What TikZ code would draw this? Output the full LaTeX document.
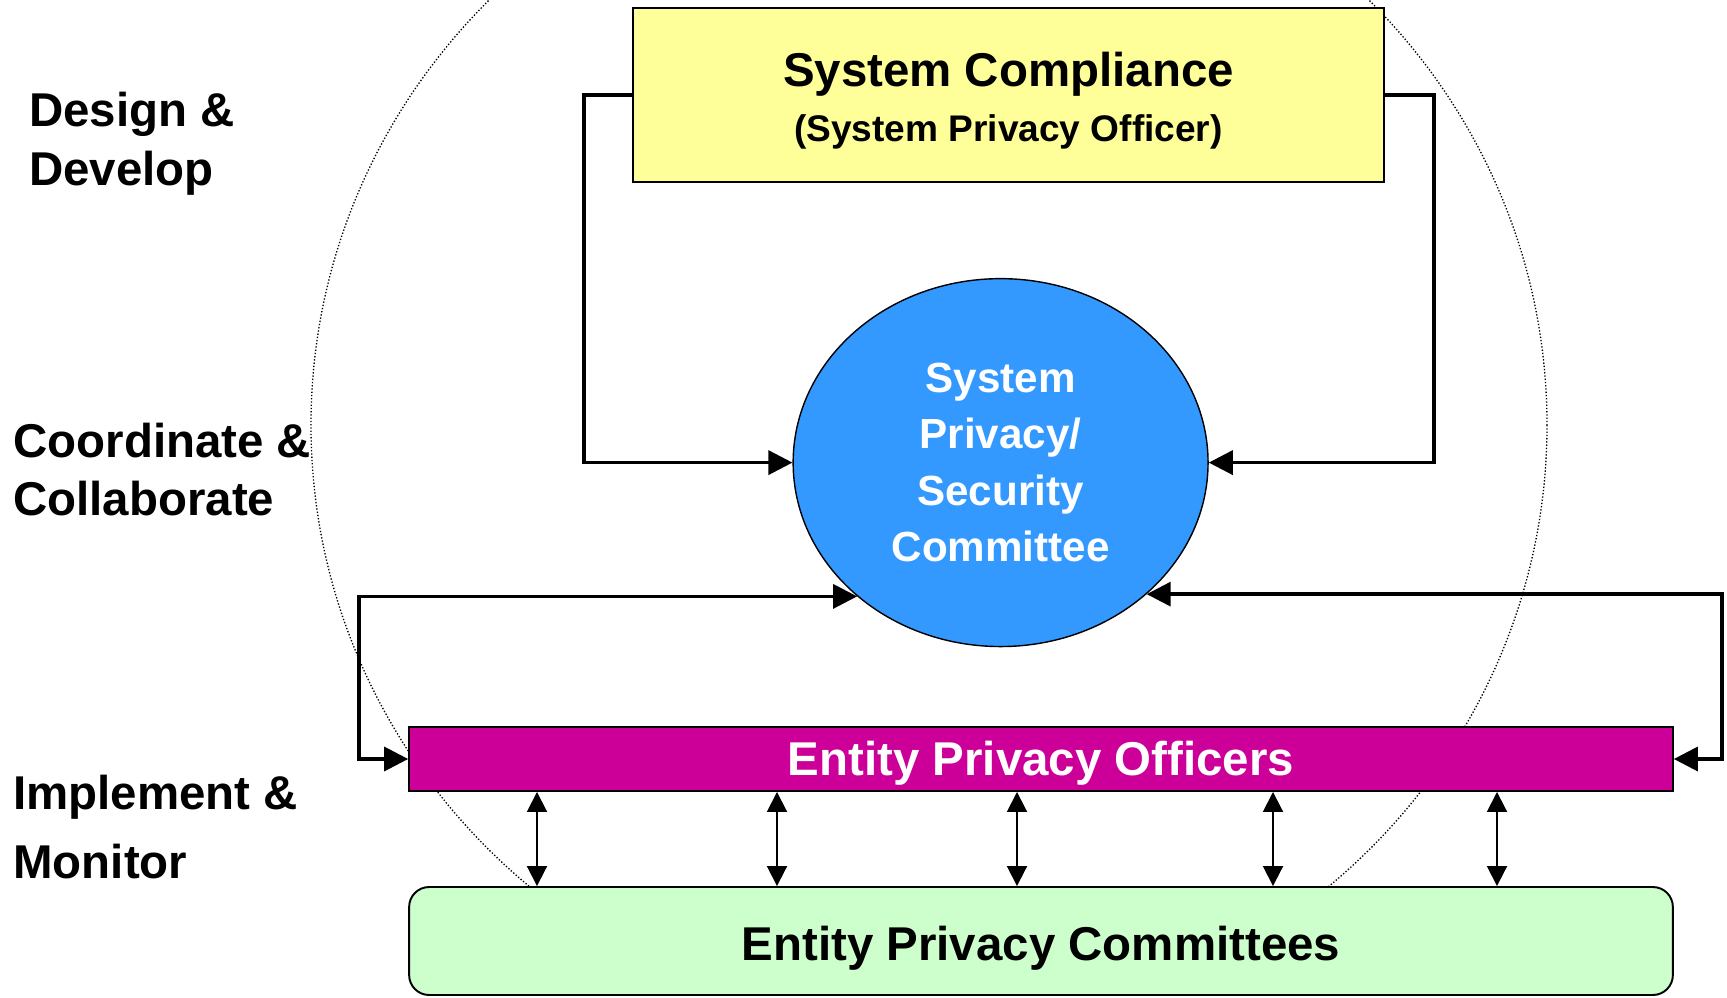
\documentclass[tikz,border=0pt]{standalone}
\usepackage{fontspec}
\setmainfont{Liberation Sans}
\usetikzlibrary{arrows.meta,shapes.geometric}

\definecolor{compyellow}{HTML}{FFFF99}
\definecolor{commblue}{HTML}{3399FF}
\definecolor{officermag}{HTML}{CC0099}
\definecolor{entitygreen}{HTML}{CCFFCC}

\newcommand{\phasefont}{\fontsize{27}{33.1}\selectfont\bfseries}
\newcommand{\commfont}{\fontsize{24}{32.1}\selectfont\bfseries}
\newcommand{\subfont}{\fontsize{21.1}{31.6}\selectfont\bfseries}

\tikzset{
  phase/.style={anchor=west, align=left, inner sep=0pt, font=\phasefont},
  compbox/.style={draw, line width=1.1pt, fill=compyellow, minimum width=15.02cm,
    minimum height=3.48cm, inner sep=0pt, align=center, font=\subfont},
  commellipse/.style={ellipse, draw, line width=0.8pt, fill=commblue, minimum width=8.3cm,
    minimum height=7.36cm, inner sep=0pt, align=center, text=white, font=\commfont},
  officerbar/.style={draw, line width=1.1pt, fill=officermag, minimum width=25.28cm,
    minimum height=1.28cm, inner sep=0pt, text=white, font=\phasefont,
    text height=19.3pt, text depth=0pt},
  entitybox/.style={draw, line width=1.1pt, rounded corners=0.4cm, fill=entitygreen,
    minimum width=25.28cm, minimum height=2.16cm, inner sep=0pt, font=\phasefont,
    text height=22.7pt, text depth=0pt},
  loopline/.style={line width=1.9pt},
  bigtip/.tip={Triangle[length=0.48cm,width=0.48cm]},
  smalltip/.tip={Triangle[length=0.4cm,width=0.4cm]},
  linkline/.style={line width=1.1pt, smalltip-smalltip},
  outerring/.style={line width=0.75pt, dash pattern=on 0.75pt off 1.1pt}
}

\begin{document}
\begin{tikzpicture}[x=0.02cm, y=-0.02cm]
  \useasboundingbox (0,0) rectangle (1727,997);
  % outer dotted ring
  \begin{scope}
    \clip (0,0) rectangle (1727,990);
    \draw[outerring] (929,425) ellipse [x radius=618, y radius=605];
  \end{scope}

  % phase labels
  \node[phase] (design) at (29,143.7) {Design \&\\Develop};
  \node[phase] (coord) at (13,469.6) {Coordinate \&\\Collaborate};
  \node[phase] (implement) at (13,827) {Implement \&\\[5.7pt]Monitor};

  % boxes
  \node[compbox] (comp) at (1008.5,95)
    {{\phasefont\rule{0pt}{26pt}System Compliance}\\(System Privacy Officer)};
  \node[commellipse] (comm) at (1000.6,462.6) {System\\Privacy/\\Security\\Committee};
  \node[officerbar] (officers) at (1041,759) {Entity Privacy Officers};
  \node[entitybox] (entities) at (1041,941) {Entity Privacy Committees};

  % loops into the committee
  \draw[loopline, -bigtip] (comp.west) -- ++(-48,0) |- (comm.west);
  \draw[loopline, -bigtip] (comp.east) -- ++(49,0) |- (comm.east);
  \draw[loopline, bigtip-bigtip] (officers.west) -- ++(-49,0) |- (comm.223.5);
  \draw[loopline, bigtip-bigtip] (officers.east) -- ++(48,0) |- (comm.318.9);

  % links between officers and committees
  \foreach \x in {537,777,1017,1273,1497}
    \draw[linkline] (officers.south -| \x,0) -- (entities.north -| \x,0);
\end{tikzpicture}
\end{document}
